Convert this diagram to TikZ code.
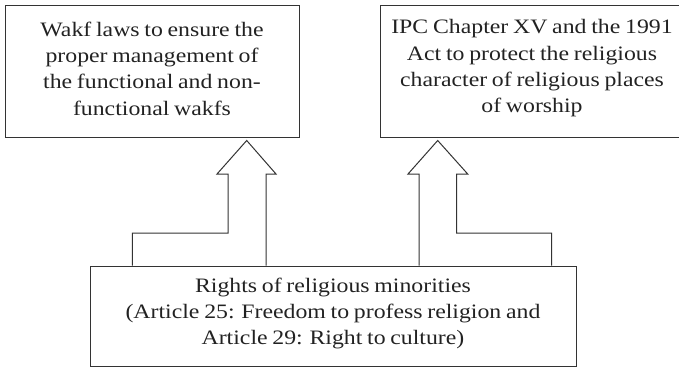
\documentclass[tikz,border=0pt]{standalone}
\usepackage{fontspec}
\setmainfont[FakeStretch=1.16, WordSpace=0.8]{Liberation Serif}
\usetikzlibrary{calc}
\definecolor{inkline}{HTML}{333333}
\definecolor{inktext}{HTML}{222222}
\tikzset{
  frame/.style={draw=inkline, line width=1pt, inner sep=0pt},
  label text/.style={inner sep=0pt, align=center, text=inktext,
    font=\fontsize{20.5}{26.3}\selectfont},
  blockarrow/.style={draw=inkline, line width=1pt, line join=miter},
}
\begin{document}
\begin{tikzpicture}[x=1pt, y=-1pt]
  \useasboundingbox (0,0) rectangle (679,367);
  \clip (0,0) rectangle (679,367);

  % upper boxes
  \node[frame, minimum width=294pt, minimum height=132pt] (wakf) at (152,71) {};
  \node[label text] (wakftext) at ($(wakf.center)+(0,-2.5)$)
    {Wakf laws to ensure the\\proper management of\\the functional and non-\\functional wakfs};
  \node[frame, minimum width=302.6pt, minimum height=132pt] (ipc) at (532,71) {};
  \node[label text] (ipctext) at ($(ipc.center)+(0,-2.5)$)
    {IPC Chapter XV and the 1991\\Act to protect the religious\\character of religious places\\of worship};

  % lower box
  \node[frame, minimum width=486pt, minimum height=100pt] (rights) at (333,316) {};
  \node[label text] (rightstext) at ($(rights.center)+(0,-2.5)$)
    {Rights of religious minorities\\(Article 25: Freedom to profess religion and\\Article 29: Right to culture)};

  % arrow tips, just below the upper boxes
  \coordinate (tipA) at ($(wakf.south -| 246.7,0)+(0,3)$);
  \coordinate (tipB) at ($(ipc.south -| 437.7,0)+(0,3)$);

  % block arrow towards the Wakf box
  \draw[blockarrow]
    (rights.north -| 132.3,0) -- (132.3,233) -- (228,233) -- (228,174)
    -- (217,174) -- (tipA) -- (276,174) -- (266,174)
    -- (rights.north -| 266,0);

  % block arrow towards the IPC box
  \draw[blockarrow]
    (rights.north -| 419,0) -- (419,174) -- (408,174)
    -- (tipB) -- (467.7,174) -- (456.7,174) -- (456.7,233)
    -- (551.7,233) -- (rights.north -| 551.7,0);
\end{tikzpicture}
\end{document}
